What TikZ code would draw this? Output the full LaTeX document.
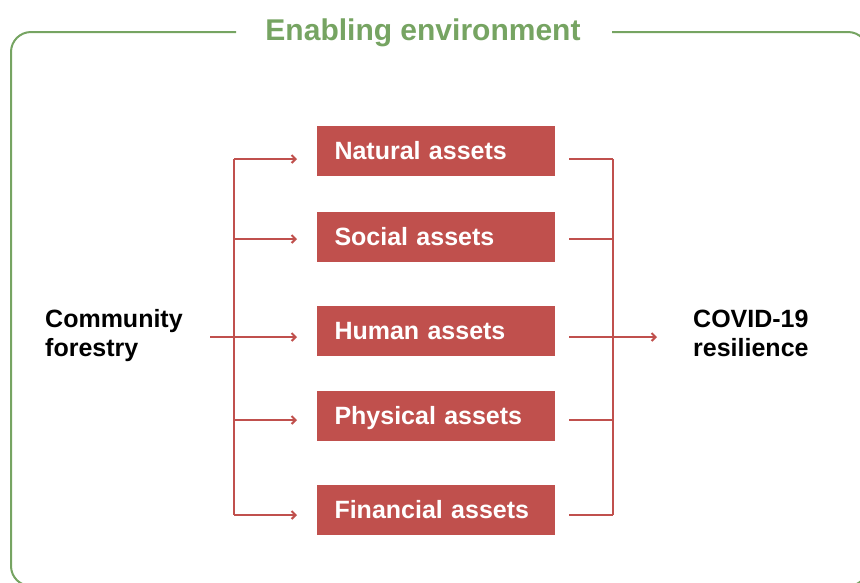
\documentclass[tikz,border=0pt]{standalone}
\usepackage{fontspec}
\setmainfont{Liberation Sans}
\usetikzlibrary{arrows.meta}
\definecolor{assetred}{HTML}{C0504D}
\definecolor{envgreen}{RGB}{118,164,98}
\tikzset{
  frameline/.style={draw=envgreen, line width=2pt, rounded corners=20pt},
  assetbox/.style={fill=assetred, text=white, inner xsep=17.5pt, inner ysep=0pt,
    text width=203pt, align=left, minimum height=50pt,
    text height=16.6pt, text depth=0pt,
    font=\fontsize{25}{29}\selectfont\bfseries},
  sidelabel/.style={inner sep=0pt, align=left, anchor=west,
    font=\fontsize{25}{29}\selectfont\bfseries},
  conn/.style={draw=assetred, line width=2pt},
  arrowc/.style={conn, -{Straight Barb[length=4pt,width=8pt]}}
}
\begin{document}
\begin{tikzpicture}[x=1pt,y=-1pt]
\useasboundingbox (0,0) rectangle (860,582);

% surrounding frame with a gap for the heading
\draw[frameline] (236,32) -| (11,586) -| (868,32) -- (612,32);
\node[anchor=base, text=envgreen, inner sep=0pt,
  font=\fontsize{30}{34}\selectfont\bfseries] (title) at (423,40) {Enabling environment};

% asset boxes
\node[assetbox] (nat) at (436,151) {Natural assets};
\node[assetbox] (soc) at (436,237) {Social assets};
\node[assetbox] (hum) at (436,331) {Human assets};
\node[assetbox] (phy) at (436,416) {Physical assets};
\node[assetbox] (fin) at (436,510) {Financial assets};

% side labels
\node[sidelabel] (cf) at (45,336) {Community\\forestry};
\node[sidelabel] (cov) at (693,333.5) {COVID-19\\resilience};

% left distribution bus
\coordinate (src) at (210,337);
\coordinate (lbN) at (234,159);
\coordinate (lbS) at (234,239);
\coordinate (lbP) at (234,420);
\coordinate (lbF) at (234,515);
\coordinate (inN) at (297,159);
\coordinate (inS) at (297,239);
\coordinate (inH) at (297,337);
\coordinate (inP) at (297,420);
\coordinate (inF) at (297,515);
\draw[conn] (lbN) -- (lbF);
\draw[arrowc] (lbN) -- (inN);
\draw[arrowc] (lbS) -- (inS);
\draw[arrowc] (src) -- (inH);
\draw[arrowc] (lbP) -- (inP);
\draw[arrowc] (lbF) -- (inF);

% right collecting bus
\coordinate (outN) at (569,159);
\coordinate (outS) at (569,239);
\coordinate (outH) at (569,337);
\coordinate (outP) at (569,420);
\coordinate (outF) at (569,515);
\coordinate (rbN) at (613,159);
\coordinate (rbS) at (613,239);
\coordinate (rbP) at (613,420);
\coordinate (rbF) at (613,515);
\coordinate (dst) at (657,337);
\draw[conn] (rbN) -- (rbF);
\draw[conn] (outN) -- (rbN);
\draw[conn] (outS) -- (rbS);
\draw[conn] (outP) -- (rbP);
\draw[conn] (outF) -- (rbF);
\draw[arrowc] (outH) -- (dst);
\end{tikzpicture}
\end{document}
